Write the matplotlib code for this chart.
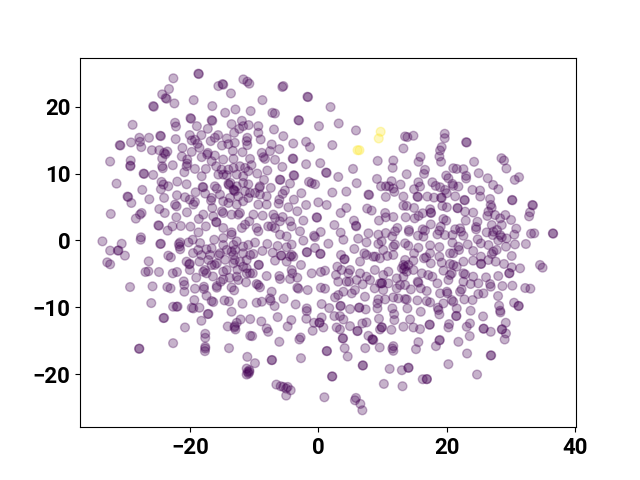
import numpy as np
import matplotlib
matplotlib.use("Agg")
import matplotlib.pyplot as plt

north_west = [(-18.67,24.96),(-18.6,24.9),(-22.56,24.26),(-23.24,22.66),(-24.3,21.86),(-23.76,21.3),(-23.6,21.2),(-22.4,20.5),(-19.4,21.0),(-25.7,20.1),(-25.6,20.0),
(-15.56,23.1),(-14.9,23.4),(-14.8,23.3),(-13.6,22.0),(-16.5,20.1),(-14.5,19.1),(-12.9,19.6),(-19.9,18.3),(-19.8,18.2),(-16.6,18.0),(-16.5,17.9),(-28.9,17.3),(-22.3,17.6),(-22.15,17.05),
(-18.9,17.1),(-17.2,16.7),(-13.5,17.4),(-11.9,17.9),(-11.7,17.1),(-12.3,16.7),(-24.6,15.66),(-24.5,15.6),(-27.85,15.36),(-27.75,14.76),(-27.55,13.96),(-29.15,14.66),(-26.35,15.36),(-30.9,14.26),(-30.8,14.2),
(-22.2,15.16),(-20,15.76),(-19.7,14.96),(-19.2,15.06),(-18.2,15.76),(-18.5,13.86),(-18.8,14.46),(-16.75,14.86),(-16.1,15.36),(-15.6,15.76),(-14.25,15.26),(-13,14.6),(-14,14.4),(-15,14.2),(-13.1,16.1),
(-25.9,13.5),(-24.75,13.5),(-24,13.1),(-23.5,13.3),(-23.8,12.9),(-21.15,13.85),(-21.25,12.56),(-19.7,13.25),(-17.2,13.1),(-17.3,12.86),(-16.1,12.7),(-18.15,12.46),(-16.6,11.85),(-14.8,12.1),(-13.2,12.2),(-11.8,13.2),(-13.3,13.4),
(-24.3,12.26),(-32.4,11.8),(-29.2,11.95),(-29.25,11.2),(-29.25,11.1),(-24.3,11.1),(-24.2,10.8),(-22.65,11.25),(-20.4,12.1),(-20.4,11.5),(-20.5,11.1),(-19.2,10.7),(-17.5,10.7),(-27.2,10.0),(-27.1,9.95),(-25.7,9.8),(-20.85,10.2),(-18.15,9.6),
(-15.9,11.1),(-15.05,10.6),(-15.55,9.85),(-14.8,9.85),(-14,10.6),(-13.2,10.85),(-12.2,11.1),(-11.4,10.85),(-14.25,9.76),(-12.7,9.86),(-11.7,9.6),(-10.9,10.36),(-31.4,8.5),(-24.4,8.76),(-24.1,8.36),(-23.35,8.1),(-21.95,8.8),(-20.5,8.4),
(-18,8),(-17.9,7.95),(-16.1,8.1),(-15.8,7.76),(-14,8.45),(-13.7,8.6),(-13.2,7.6),(-12.95,7.36),(-12.7,8.1),(-13.9,8.3),(-13.1,7.5),(-11.7,8.6),(-10.9,8.4),(-11.4,7.36),(-27.4,7.56),(-24.5,7.66),(-19.1,7.2),(-17.6,7),
(-29.7,6.56),(-29.6,6.5),(-29.1,5.6),(-26.3,6.16),(-24,6.36),(-22,6.76),(-20.75,6.46),(-20,6.1),(-19.2,5.76),(-19.45,5.36),(-16.6,6.36),(-16.7,5.96),(-15.3,6.86),(-14.8,5.86),(-14,5.6),(-13.75,6.36),(-12.45,6.6),(-11.7,5.86),(-12.7,5.36),(-10.9,6.36),
(-22.3,5.36),(-22.05,5.1),(-24.75,4.7),(-23.9,4.1),(-32.3,3.96),(-27.5,4.1),(-27.75,3.86),(-28.4,3.26),(-24.9,2.26),(-24.8,2.2),(-20.45,4.2),(-22.1,3.46),(-21.4,2.16),(-22.7,2.1),(-23.45,1.46),(-19.9,2.06),(-18.6,3.2),(-17.9,3.86),
(-16.5,4.86),(-16.35,3.6),(-15.9,2.76),(-15.85,2.7),(-17.5,2.1),(-15,4.36),(-14.8,4.1),(-13.5,3.86),(-12.2,4.1),(-12.45,3.86),(-14.8,1.86),(-13.5,1.2),(-11.9,1.86),(-11.4,2.36),(-18.65,1.2),(-27.6,0.46),(-27.65,0.1),
(-16.2,0.1),(-14.8,0.36),(-13.5,0.86),(-19.55,0.1)]

south_west = [(-33.6,-0.14),(-30.6,-0.5),(-32.4,-1.53),(-31.2,-1.53),(-31.1,-1.5),(-30.1,-2.28),(-32.85,-3.28),(-32.4,-3.58),(-26.4,-3.13),(-26.9,-4.73),(-26.45,-4.63),(-24.8,-4.73),(-23.35,-2.28),(-22.95,-2.53),(-24.6,-0.54),(-24.5,-0.5),
(-21.7,-0.54),(-21.5,-0.3),(-20.2,-0.3),(-18.4,-0.4),(-12.7,-0.14),(-21.6,-0.93),(-21.5,-1.33),(-18.7,-1.43),(-20.5,-3.18),(-20.1,-3.58),(-20,-3.5),(-18.5,-3.18),(-20,-4.43),(-22.65,-4.93),(-22,-4.73),(-19,-5.58),(-17.65,-4.43),(-17.4,-4.93),
(-17.1,-2.93),(-16.85,-2.18),(-17.4,-1.33),(-16.6,-1.18),(-15.3,-1.93),(-15.8,-3.43),(-16.1,-3.68),(-14.8,-4.68),(-14.25,-4.43),(-13,-2.93),(-13.2,-3.43),(-12.7,-5.43),(-12.45,-5.93),(-14.8,-5.83),(-13.5,-1.68),(-13.2,-2.18),(-11.7,-3.93),(-11.15,-4.93),(-11.7,-0.93),(-10.9,-0.68),(-10.6,-2.18),
(-29.3,-6.98),(-25.8,-6.88),(-23.5,-6.98),(-23,-7.18),(-20.95,-6.13),(-20.85,-6.68),(-20.85,-7.68),(-19.2,-7.23),(-17.8,-6.93),(-17.8,-7.28),(-15.8,-6.83),(-15.8,-7.08),(-13.5,-7.03),(-13.1,-7.48),(-11.25,-6.28),
(-17.4,-8.28),(-19.3,-8.93),(-16.35,-9.23),(-16.6,-9.08),(-14.6,-8.98),(-13.9,-9.13),(-11.8,-9.48),(-26,-9.38),(-22.6,-9.93),(-22.05,-9.93),(-21.9,-9.9),(-19.7,-10.08),(-19.45,-10.18),(-18.5,-10.08),(-17.2,-11.03),(-17.1,-11),(-24.1,-11.63),(-24,-11.6),(-18.2,-12.03),(-20.75,-13.03),
(-13.5,-10.68),(-12.1,-11.83),(-14.1,-12.88),(-12.7,-12.33),(-13,-12.83),(-13.05,-13.03),(-12.9,-13.33),(-10.6,-11.78),(-10.6,-14.28),(-17.6,-13.98),(-17.6,-14.58),(-17.6,-15.93),(-17.6,-16.18),(-17.65,-16.58),(-22.6,-15.38),(-13.9,-16.13),(-27.9,-16.23),(-27.85,-16.2),
(-11.05,-17.43),(-11.15,-19.18),(-11,-19.68),(-11.15,-20.08),(-10.85,-19.93),(-14.8,-0.68),(-13.2,-0.68),(-12.95,-1.43),(-14.25,-1.43),(-11.15,-2.93),(-11.7,-1.93),(-17.9,-4.7),(-16.6,-3.7),(-15.5,-2.2),(-14.5,-2.9),(-12.2,-3.2),(-12.6,-4.4),(-13.8,-5.6),(-15.2,-6.2),(-16.4,-5.4),(-18.2,-2.2),(-19.5,-1.9)]

north_middle = [(-11.67,24.1),(-11.05,23.76),(-10.74,23.46),(-5.6,22.96),(-5.45,23.1),(-8.7,21),(-1.7,21.5),(-1.6,21.45),(1.9,19.96),(-10.53,19.36),(-7.15,19.1),(-6.75,19),(-3.1,18),(-3,17.95),(0.1,17.1),(3.17,17.5),(5.86,16.46),
(-10.84,17.26),(-9.34,17.1),(-9.34,16.1),(-6.9,16.6),(-5.45,15.6),(-11.05,15.36),(-11.15,14.86),(-11.05,14.26),(-8.97,15.1),(-7.26,14.36),(-6.07,13.66),(-7.52,13.36),(-8.8,13.1),(-3.9,14.5),(-1.9,14.76),(-1.3,13.96),(2.18,14.26),
(-10.63,12.2),(-8.56,12.46),(-8.3,12.2),(-6.74,12.06),(-10.4,11.26),(-7.94,10.46),(-3.99,12.26),(-3.9,12.2),(-5.6,11),(-1.9,11.4),(0.3,11.56),(1.2,10.16),(1.3,10.1),(3.1,9.5),(5.4,10.7),(9.24,11.9),(11.67,11.96),(11.57,10.86),(13.75,9.9),
(-6,9.1),(-5.9,9.05),(-3.84,9.76),(-3.75,9.7),(-1.45,8.76),(-1.03,8.56),(-0.5,8.4),(-9.5,10),(-8.45,9.06),(-7.4,7.86),(-4.4,8.5),(-5.2,7.46),(-5.55,6.96),(-6.07,6.1),(-6.17,5.5),(-2.64,7.06),(2.18,7.16),(4.36,7.3),(5.97,8.56),(7.8,6.86),(7.9,6.8),
(9.13,9.2),(9.76,8.1),(10.5,8.1),(11,8.1),(11.4,8.86),(11.67,7.76),(11.83,7.26),(12.8,8.36),(10.5,6.5),(0,5.7),(1.3,5.3),(-1.9,5.3),(-3.8,6.1),(-4.66,4.96),(-3.27,4.36),(4.36,4.86),(3.48,4.1),(7.6,4.76),(8.3,4.46),
(-0.26,3.46),(-0.2,3.4),(-2.33,2.96),(-4.4,2.86),(-4.15,2.1),(-5.55,3.5),(-7,3.86),(-7.26,2.1),(-7.8,2.1),(-6.74,3.36),(-8.66,3.7),(-10.74,2.86),(-10.1,3.86),(-9.6,1.86),(-9.34,1.36),
(-8.04,5.36),(-9.34,5.36),(-9.08,6.86),(-9.18,7.86),(-9.08,8.1),(-10.63,7.1),(-9.86,7.1),(-8.04,6.6),(-6.74,1.86),(-5.96,2.86),(-5.96,0.86),(-4.93,0.6),(-2.85,1.36),(-2.33,-0.04),(-0.67,0.7),(-0.52,0.5),(0.37,1.26),(1.56,-0.5),
(2.5,2.3),(3.48,1.16),(3.9,0.1),(5.55,2.96),(5.86,2.2),(5.9,2.1),(6.2,0.26),(7.8,1.06),(7.5,-0.3),(9.44,2.96),(10.4,4.1),(10.5,3.46),(11.67,3.5),(12.3,1.86),(11.93,1.36),(11.5,0.6),(10.5,1.1),(9.34,0.86),(9.86,-0.14),(11.93,-0.64)]

north_east = [(13.5,15.56),(13.86,15.46),(14.8,15.66),(19.67,15.96),(19.67,15.3),(23,14.7),(23.1,14.65),(19.2,13.96),(18.95,13.46),(18.84,12.56),(19.1,11.76),(13.24,13.76),(15.9,12.5),(15.6,11.76),(24.24,11.76),(28.5,12.3),(28.9,11.96),(29.27,10.76),(16.6,10.56),(16.45,9.96),
(21,10.8),(21.54,10.7),(22.58,10.66),(24.96,10.06),(23,9.66),(23,9.26),(19.9,9.7),(20.24,9.3),(26.36,9.3),(31.24,9.46),(30.57,9.06),(27.2,8.3),(28.02,7.66),(15.57,8.7),(15.83,8.06),(14.9,7.66),(17.75,8.7),(18.27,8.16),(18.95,7.96),(19.72,7.56),(19.98,7.06),(20.87,8.46),(21,8.16),(21.8,8.06),
(23.98,7.56),(25.17,7.46),(25.2,6.56),(13.24,6.56),(15.42,6.56),(15.5,6.5),(16.97,6.56),(18,6.4),(19.1,6.4),(19.2,6.35),(21.3,6.6),(22.73,6.06),(22.8,6),(30.15,6.06),(30.2,6),(33.3,5.3),(33.4,5.25),(32.95,4.2),(32.8,3.6),(26.73,6.2),(26.83,5.3),(26.98,4.9),(26.47,4.3),(26.3,3.66),(27.5,3.8),
(13.24,5.2),(13.76,5.16),(14.9,4.86),(19.3,5.16),(20,4.96),(21.64,4.86),(21.7,4.8),(17.4,4.66),(17.5,4.16),(17.55,4.1),(16.25,4.06),(15.6,3.66),(15,3.3),(13.6,3.46),(22.84,4.3),(24.1,4.16),(29.1,3.8),(30,3.06),(28.3,3.3),(22.94,2.96),(19.46,3.2),(19.9,2.96),(24.76,2.8),(24.55,2),(24.55,1.66),(17.5,2.4),(19.05,2.06),(18.84,1.46),
(16.25,1.66),(16.6,1.46),(16.35,0.56),(14.1,1.56),(14.1,1.3),(15.5,0.7),(18.53,0.9),(19.7,0.8),(20.87,0.8),(21.3,1.66),(22.06,1.8),(22.2,1.3),(22.58,0.7),(20.87,-0.34),(26.2,1.2),(27,2.3),(27.25,1.3),(27.8,1.56),(28.55,2.3),(27.15,0.8),(28,0),(28.55,0.46),(29.3,0.3),(28.3,0.8),
(30.8,1.76),(30.5,0.86),(33.1,1),(33.6,1.06),(36.5,1.06),(36.55,1),(32.3,-0.54),(30.6,-0.6),(29.2,-0.94),(24.8,0.16),(25.3,-0.44),(26.47,-0.7),(23.25,-0.6),(21.8,-0.94),(17.4,-0.74),(18.84,-1),(15.57,-1.1),(13.5,-0.44),(14,-0.8)]

south_east = [(14.9,-1.93),(13.5,-2.93),(14.8,-3.03),(16.45,-2.68),(16.77,-2.53),(17.4,-1.93),(17.5,-3.43),(18.84,-2.43),(19.2,-3.33),(20.5,-1.93),(21,-1.93),(21.9,-1.43),(20.5,-3.53),(21,-3.68),(21.54,-3.93),(22.58,-3.18),(24.1,-1.58),(24.1,-3.03),(25.3,-2.43),(25.3,-3.53),(25.35,-3.5),(26.47,-2.93),(27.25,-1.68),(27,-2.03),(27.76,-1.43),(27.6,-3.18),(28.9,-3.53),(30.1,-2.33),(30.1,-4.03),(31.4,-4.18),(29.7,-4.93),(29.75,-4.9),(34.5,-3.68),(34.9,-4.08),
(13.24,-3.68),(13.5,-3.93),(13.34,-4.33),(13,-4.18),(13.76,-4.68),(14,-3.68),(14.8,-4.43),(16.1,-4.93),(17.1,-5.18),(17.75,-5.43),(18.53,-6.43),(19.47,-4.53),(20.24,-5.93),(20.5,-5.18),(20.76,-4.93),(22.58,-4.93),(22.84,-5.08),(22.58,-6.18),(24.1,-5.43),(24.9,-6.43),(26.1,-5.53),(26.73,-6.53),(26.83,-6.93),(28,-5.33),(28.65,-6.83),(30.2,-6.78),(32.2,-7.13),(33,-7.23),
(15.47,-6.18),(15.57,-6.33),(14.4,-7.33),(15.94,-7.18),(16.87,-7.58),(13.24,-5.43),(13.5,-6.68),(12.72,-6.68),(18.95,-7.93),(20,-7.68),(20.1,-7.93),(22.3,-7.33),(22.06,-7.68),(23.7,-6.53),(24.9,-8.03),(25.7,-7.93),(27.97,-8.33),
(13.5,-8.78),(13.76,-8.83),(15.42,-8.98),(16.87,-9.08),(17.4,-9.28),(19.47,-9.43),(20.76,-8.93),(21,-9.18),(22.73,-8.83),(24,-8.93),(28.13,-9.78),(28.3,-10.53),(28.34,-10.78),(30.46,-9.33),(31.14,-9.83),(31.2,-9.8),(13.86,-10.18),(15.94,-10.68),(18.6,-10.08),(18.7,-10.43),(18.84,-11.08),(21.54,-10.18),(23.7,-10.53),(21.44,-11.33),(21.5,-11.3),(25.64,-11.38),
(14.28,-11.83),(13.24,-12.93),(14.8,-13.03),(15.83,-13.28),(17.3,-12.63),(17.35,-12.6),(20.35,-12.53),(20.24,-13.03),(23.6,-12.43),(23.1,-12.93),(25.7,-13.23),(25.75,-13.2),(26.83,-13.68),(29.17,-12.33),(28.55,-13.33),(28.6,-13.3),(29.2,-13.93),(29,-14.83),(23.56,-14.33),(18.84,-14.98),(18.9,-14.9),(21.8,-15.18),(15.57,-15.23),(15.2,-16.28),(18.3,-15.83),(23.15,-16.93),(26.83,-17.23),(26.9,-17.2),(20.24,-18.53),(24.7,-20.08),(14,-19.08),(14.05,-19.05),(13,-19.43),(16.25,-20.78),(16.87,-20.78),(16.9,-20.75),(13.1,-21.83)]

south_middle = [(-9.85,-0.33),(-7.94,-0.53),(-6.33,-0.83),(-4.15,-0.63),(-0.52,-1.13),(-4.93,-1.03),(-8.7,-1.58),(-10.1,-2.03),(-7.1,-1.83),(-5.8,-2.28),(-5.75,-2.25),(-4.4,-2.43),(-4.15,-2.18),(-1.8,-1.78),(-1.75,-1.75),(0.3,-2.03),(0.35,-2),(-6.74,-3.03),(-4.93,-3.18),(-3.9,-2.43),(-2.7,-3.68),(3.53,-2.18),(4.05,-2.83),(4.1,-2.8),(5.6,-1.28),
(6.5,-3.18),(7.16,-1.93),(7.5,-2.18),(8.56,-2.43),(8.9,-2.43),(9.6,-2.68),(10.74,-2.33),(11.67,-2.18),(9.34,-0.53),(10.1,-1.43),(11.67,-0.93),(-9.3,-3.68),(-9.25,-3.65),(-11.15,-4.18),(-10.63,-4.93),(-10.2,-4.93),(-8.04,-5.33),(-6.07,-5.33),(-5.96,-5.78),(-4.15,-4.43),(-4.05,-4.93),(-4.4,-5.78),(-3.27,-5.58),(-1.03,-4.93),(0.4,-4.73),(1.04,-4.53),
(2.96,-3.93),(2.75,-5.18),(3.63,-4.43),(3.1,-6.18),(4.4,-6.18),(4.8,-6.18),(4.93,-4.43),(4.67,-4.93),(6.5,-4.93),(5.97,-5.93),(7.5,-5.43),(8.05,-5.93),(8.8,-4.43),(10.1,-5.18),(9.6,-6.43),(9.86,-6.43),(9.9,-6.4),(10.9,-4.68),(12.2,-5.68),(-9.6,-6.53),(-9.34,-6.68),(-9.08,-7.03),(-7.26,-7.68),(-3.27,-7.08),(-3.1,-7.23),(-1.66,-7.43),(0.4,-7.08),(1.04,-7.23),
(6.9,-6.58),(5.7,-7.43),(5.2,-7.93),(3.9,-7.68),(3.1,-8.18),(2.6,-8.53),(8.77,-7.18),(10.1,-7.43),(10.9,-6.43),(12.2,-7.18),(7.26,-8.43),(9.34,-8.83),(9.2,-9.43),(9.2,-10.18),(10.4,-8.83),(11.67,-8.53),(12.45,-8.68),
(-7.52,-8.68),(-7.42,-9.03),(-8.8,-9.18),(-9.6,-9.33),(-6.8,-9.83),(-5.4,-8.73),(-3.53,-9.58),(0.52,-9.53),(1.7,-10.13),(3.43,-9.83),(3.5,-9.8),(4.93,-10.28),(6.33,-10.08),(6.4,-10.05),(7.37,-10.33),(-1.8,-10.18),(-1.8,-10.58),(11.52,-10.18),(11.8,-11.03),(11.83,-11.93),
(-8.87,-12.13),(-6.33,-11.48),(-4.2,-11.93),(-4.77,-12.88),(-1.87,-11.73),(0.52,-11.53),(-0.67,-12.33),(0.16,-12.33),(0.2,-12.3),(0.78,-13.03),(-0.88,-13.53),(2.5,-11.33),(3.37,-11.33),(3.9,-11.83),(2.85,-13.03),(3.37,-13.33),(4.93,-12.83),(6.07,-13.58),(6.12,-13.55),(6.85,-12.43),(7.5,-12.28),(9.44,-11.73),(9.86,-13.03),(9.9,-13),(9.6,-13.33),(11.37,-13.38),
(-8.04,-13.18),(-7.8,-13.68),(-10.3,-14.33),(-6.07,-15.18),(-2.75,-14.53),(-2.95,-14.83),(3.8,-14.68),(3.85,-14.65),(7.8,-14.28),(8.4,-14.83),(8.45,-14.8),(8.56,-14.93),(4.1,-16.13),(1.3,-16.58),(1.35,-16.55),(7.3,-16.13),(9.55,-16.03),(11.52,-16.18),(11.67,-15.83),(11.67,-16.53),(4.57,-17.38),(-7.26,-17.93),(-7.2,-17.9),(-2.7,-17.63),(-9.86,-18.38),(-10.74,-19.68),(-10.74,-19.43),
(6.9,-18.73),(6.95,-18.7),(2.13,-20.38),(2.18,-20.35),(11.1,-19.23),(10.2,-21.48),(-6.53,-21.58),(-5.86,-21.83),(-5.45,-21.93),(-5,-22.18),(-4.77,-21.93),(-4.3,-22.43),(-5,-23.23),(0.94,-23.48),(5.86,-23.58),(5.7,-23.93),(6.54,-24.48),(6.85,-25.43)]

highlight = [(9.7,16.26),(9.4,15.26),(6.1,13.5),(6.4,13.5)]

x_ticks = [-20, 0, 20, 40]
y_ticks = [-20, -10, 0, 10, 20]

main = north_west + south_west + north_middle + north_east + south_east + south_middle
points = np.array(main + highlight)
labels = np.array([0] * len(main) + [1] * len(highlight))

plt.rcParams['font.family'] = ['Roboto', 'DejaVu Sans']
fig, ax = plt.subplots(figsize=(6.4, 4.8), dpi=100)
ax.scatter(points[:, 0], points[:, 1], c=labels, cmap='viridis', s=40, alpha=0.3)
ax.set_xlim(-37.09, 40.1)
ax.set_ylim(-27.96, 27.36)
ax.set_xticks(x_ticks)
ax.set_yticks(y_ticks)
ax.tick_params(labelsize=16)
for label in ax.get_xticklabels() + ax.get_yticklabels():
    label.set_fontweight('bold')
fig.savefig('out.png', dpi=100)
